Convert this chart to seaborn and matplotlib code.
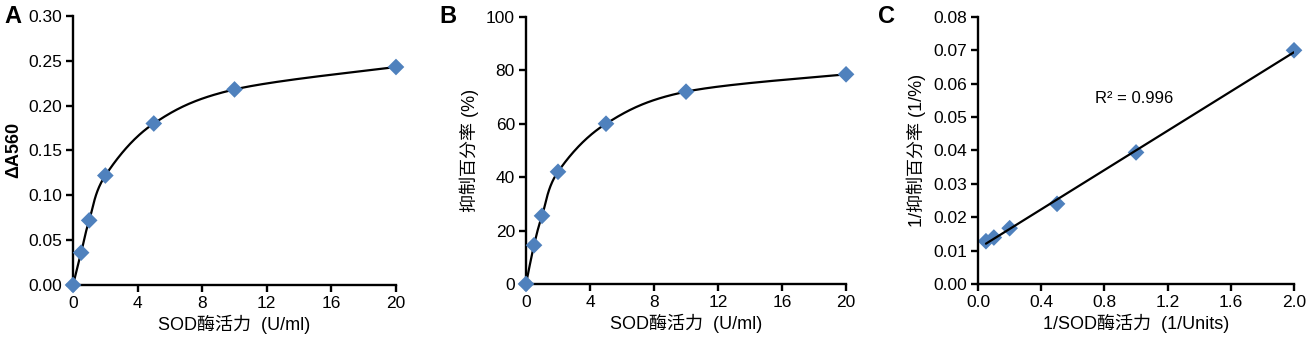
import numpy as np
import pandas as pd
import matplotlib
matplotlib.use("Agg")
import matplotlib.pyplot as plt
from matplotlib.ticker import FormatStrFormatter, MultipleLocator
import seaborn as sns

# SOD activity series (U/ml) and measured responses
sod_activity = [0, 0.5, 1, 2, 5, 10, 20]
delta_a560 = [0.000, 0.036, 0.072, 0.122, 0.180, 0.218, 0.243]
inhibition_pct = [0.0, 14.5, 25.5, 42.0, 60.0, 72.0, 78.5]

# Double-reciprocal data (x = 1/activity, y = 1/inhibition)
inv_activity = [0.05, 0.1, 0.2, 0.5, 1.0, 2.0]
inv_inhibition = [0.0128, 0.0139, 0.0167, 0.0240, 0.0394, 0.0700]
r_squared = 0.996

panel_letters = ["A", "B", "C"]

MARKER_COLOR = "#4F81BD"
MARKER_SIZE = 72
LINE_W = 1.6
FONTS = ["Liberation Sans", "Noto Sans CJK SC", "DejaVu Sans"]

sns.set_theme(style="ticks")
plt.rcParams["font.family"] = FONTS
plt.rcParams["axes.unicode_minus"] = False


def smooth_curve(x, y, xscale, yscale, n=60):
    """Smoothed connecting line (Catmull-Rom / Bezier) through the points,
    computed in axis-normalised space."""
    p = np.column_stack([np.asarray(x, float) / xscale, np.asarray(y, float) / yscale])
    k = len(p)
    tang = np.zeros_like(p)
    for i in range(k):
        a = p[max(i - 1, 0)]
        b = p[min(i + 1, k - 1)]
        tang[i] = (b - a) / 2.0
    out = []
    t = np.linspace(0, 1, n)[:, None]
    for i in range(k - 1):
        b0 = p[i]
        b1 = p[i] + tang[i] / 3.0
        b2 = p[i + 1] - tang[i + 1] / 3.0
        b3 = p[i + 1]
        seg = ((1 - t) ** 3) * b0 + 3 * ((1 - t) ** 2) * t * b1 + 3 * (1 - t) * t ** 2 * b2 + t ** 3 * b3
        out.append(seg if i == 0 else seg[1:])
    out = np.vstack(out)
    return pd.DataFrame({"x": out[:, 0] * xscale, "y": out[:, 1] * yscale})


def style_axes(ax):
    sns.despine(ax=ax)
    for side in ("left", "bottom"):
        ax.spines[side].set_linewidth(1.7)
        ax.spines[side].set_color("black")
    ax.tick_params(axis="both", direction="out", length=5, width=1.7,
                   colors="black", labelsize=12.5, pad=3)
    for lab in ax.get_xticklabels() + ax.get_yticklabels():
        lab.set_fontfamily(FONTS)


fig = plt.figure(figsize=(13.16, 3.45), dpi=100)
ax_a = fig.add_axes([0.0555, 0.174, 0.2454, 0.780])
ax_b = fig.add_axes([0.3997, 0.177, 0.2432, 0.774])
ax_c = fig.add_axes([0.7432, 0.177, 0.2401, 0.774])

label_kw = dict(fontsize=13, color="black")

# Panel A: absorbance change
curve_a = smooth_curve(sod_activity, delta_a560, 20, 0.30)
sns.lineplot(data=curve_a, x="x", y="y", sort=False, color="black", lw=LINE_W, ax=ax_a, zorder=2)
sns.scatterplot(x=sod_activity, y=delta_a560, marker="D", s=MARKER_SIZE, color=MARKER_COLOR,
                edgecolor="none", ax=ax_a, zorder=3, clip_on=False)
ax_a.set_xlim(0, 20)
ax_a.set_ylim(0, 0.30)
ax_a.xaxis.set_major_locator(MultipleLocator(4))
ax_a.yaxis.set_major_locator(MultipleLocator(0.05))
ax_a.yaxis.set_major_formatter(FormatStrFormatter("%.2f"))
ax_a.set_xlabel("SOD酶活力  (U/ml)", labelpad=3, **label_kw)
ax_a.set_ylabel("ΔA560", labelpad=4, fontweight="bold", **label_kw)

# Panel B: inhibition percentage
curve_b = smooth_curve(sod_activity, inhibition_pct, 20, 100)
sns.lineplot(data=curve_b, x="x", y="y", sort=False, color="black", lw=LINE_W, ax=ax_b, zorder=2)
sns.scatterplot(x=sod_activity, y=inhibition_pct, marker="D", s=MARKER_SIZE, color=MARKER_COLOR,
                edgecolor="none", ax=ax_b, zorder=3, clip_on=False)
ax_b.set_xlim(0, 20)
ax_b.set_ylim(0, 100)
ax_b.xaxis.set_major_locator(MultipleLocator(4))
ax_b.yaxis.set_major_locator(MultipleLocator(20))
ax_b.set_xlabel("SOD酶活力  (U/ml)", labelpad=3, **label_kw)
ax_b.set_ylabel("抑制百分率 (%)", labelpad=5, **label_kw)

# Panel C: double-reciprocal plot with linear fit
sns.regplot(x=inv_activity, y=inv_inhibition, ci=None, marker="D", ax=ax_c,
            scatter_kws=dict(s=MARKER_SIZE, color=MARKER_COLOR, edgecolor="none",
                             alpha=1.0, clip_on=False),
            line_kws=dict(color="black", lw=LINE_W))
ax_c.set_xlim(0, 2.0)
ax_c.set_ylim(0, 0.08)
ax_c.xaxis.set_major_locator(MultipleLocator(0.4))
ax_c.xaxis.set_major_formatter(FormatStrFormatter("%.1f"))
ax_c.yaxis.set_major_locator(MultipleLocator(0.01))
ax_c.yaxis.set_major_formatter(FormatStrFormatter("%.2f"))
ax_c.set_xlabel("1/SOD酶活力  (1/Units)", labelpad=3, **label_kw)
ax_c.set_ylabel("1/抑制百分率 (1/%)", labelpad=5, **label_kw)
ax_c.text(0.74, 0.0557, f"R² = {r_squared:.3f}", fontsize=12, va="center", ha="left",
          family=FONTS, color="black")

for ax in (ax_a, ax_b, ax_c):
    style_axes(ax)

for letter, xpos in zip(panel_letters, [0.0095, 0.3405, 0.674]):
    fig.text(xpos, 0.952, letter, fontsize=17, fontweight="bold", va="center",
             ha="center", family=FONTS, color="black")

fig.savefig("out.png", dpi=100)
